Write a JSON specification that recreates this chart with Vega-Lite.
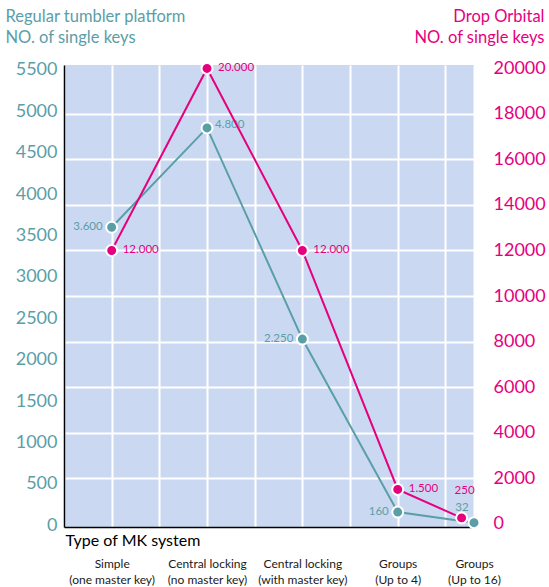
{
  "$schema": "https://vega.github.io/schema/vega-lite/v6.json",
  "width": 410,
  "height": 462,
  "autosize": {"type": "none"},
  "padding": {"left": 64, "top": 65, "right": 75, "bottom": 60},
  "background": "white",
  "config": {
    "view": {"fill": "#cad9f1", "stroke": null},
    "font": "Lato",
    "axis": {"ticks": false, "labelFont": "Lato", "titleFont": "Lato", "titleFontWeight": "normal"},
    "text": {"font": "Lato", "fontSize": 11.5, "baseline": "middle"}
  },
  "datasets": {
    "teal": [
      {"pos": 1, "keys": 3600, "label": "3.600", "system": "Simple (one master key)"},
      {"pos": 2, "keys": 4800, "label": "4.800", "system": "Central locking (no master key)"},
      {"pos": 3, "keys": 2250, "label": "2.250", "system": "Central locking (with master key)"},
      {"pos": 4, "keys": 160, "label": "160", "system": "Groups (Up to 4)"},
      {"pos": 4.8, "keys": 32, "label": "32", "system": "Groups (Up to 16)"}
    ],
    "mag": [
      {"pos": 1, "keys": 12000, "label": "12.000", "system": "Simple (one master key)"},
      {"pos": 2, "keys": 20000, "label": "20.000", "system": "Central locking (no master key)"},
      {"pos": 3, "keys": 12000, "label": "12.000", "system": "Central locking (with master key)"},
      {"pos": 4, "keys": 1500, "label": "1.500", "system": "Groups (Up to 4)"},
      {"pos": 4.67, "keys": 250, "label": "250", "system": "Groups (Up to 16)"}
    ]
  },
  "layer": [
    {
      "data": {"name": "teal"},
      "encoding": {
        "x": {
          "field": "pos", "type": "quantitative",
          "scale": {"domain": [0.5, 4.8], "nice": false, "zero": false},
          "axis": {
            "values": [0.5, 1, 1.5, 2, 2.5, 3, 3.5, 4, 4.5, 4.8],
            "grid": true, "gridColor": "white", "gridWidth": 2, "gridOpacity": 1,
            "domain": true, "domainColor": "black", "domainWidth": 1.5,
            "labelExpr": "datum.value == 1 ? ['Simple','(one master key)'] : datum.value == 2 ? ['Central locking','(no master key)'] : datum.value == 3 ? ['Central locking','(with master key)'] : datum.value == 4 ? ['Groups','(Up to 4)'] : datum.value == 4.8 ? ['Groups','(Up to 16)'] : ''",
            "labelFontSize": 12, "labelColor": "#1a1a1a", "labelLineHeight": 16,
            "labelPadding": 31, "labelOverlap": false, "labelFlush": false, "labelBound": false,
            "title": "Type of MK system", "titleFontSize": 16, "titleColor": "black",
            "titleAlign": "left", "titleBaseline": "top", "titleX": 1, "titleY": 5, "titleAnchor": "start"
          }
        },
        "y": {
          "field": "keys", "type": "quantitative",
          "scale": {"domain": [-20, 5560], "nice": false, "zero": false},
          "axis": {
            "orient": "left", "format": "d",
            "values": [0, 500, 1000, 1500, 2000, 2500, 3000, 3500, 4000, 4500, 5000, 5500],
            "grid": false, "domain": true, "domainColor": "black", "domainWidth": 1.5,
            "labelColor": "#5a9ea8", "labelFontSize": 18, "labelPadding": 7,
            "title": ["Regular tumbler platform", "NO. of single keys"],
            "titleColor": "#5a9ea8", "titleFontSize": 16.5, "titleAngle": 0,
            "titleAlign": "left", "titleBaseline": "top", "titleX": -59, "titleY": -57,
            "titleLineHeight": 21
          }
        }
      },
      "layer": [
        {"mark": {"type": "line", "color": "#5a9ea8", "strokeWidth": 2}},
        {"mark": {"type": "point", "filled": true, "size": 120, "color": "#5a9ea8", "stroke": "white", "strokeWidth": 2, "opacity": 1}},
        {
          "transform": [{"filter": "datum.pos == 1 || datum.pos == 3 || datum.pos == 4"}],
          "mark": {"type": "text", "align": "right", "dx": -9, "color": "#5a9ea8"},
          "encoding": {"text": {"field": "label"}}
        },
        {
          "transform": [{"filter": "datum.pos == 2"}],
          "mark": {"type": "text", "align": "left", "dx": 8, "dy": -3, "color": "#5a9ea8"},
          "encoding": {"text": {"field": "label"}}
        },
        {
          "transform": [{"filter": "datum.pos > 4.5"}],
          "mark": {"type": "text", "align": "center", "dx": -12, "dy": -15, "color": "#5a9ea8"},
          "encoding": {"text": {"field": "label"}}
        },
        {
          "data": {"values": [{"arrow": "y"}]},
          "mark": {"type": "point", "shape": "triangle-up", "filled": true, "color": "black", "size": 50, "opacity": 1},
          "encoding": {"x": {"datum": 0.5, "type": "quantitative"}, "y": {"datum": 5530, "type": "quantitative"}}
        },
        {
          "data": {"values": [{"arrow": "x"}]},
          "mark": {"type": "point", "shape": "triangle-right", "filled": true, "color": "black", "size": 50, "opacity": 1},
          "encoding": {"x": {"datum": 4.74, "type": "quantitative"}, "y": {"datum": -20, "type": "quantitative"}}
        }
      ]
    },
    {
      "data": {"name": "mag"},
      "encoding": {
        "x": {
          "field": "pos", "type": "quantitative",
          "scale": {"domain": [0.5, 4.8], "nice": false, "zero": false}
        },
        "y": {
          "field": "keys", "type": "quantitative",
          "scale": {"domain": [-150, 20150], "nice": false, "zero": false},
          "axis": {
            "orient": "right", "format": "d",
            "values": [0, 2000, 4000, 6000, 8000, 10000, 12000, 14000, 16000, 18000, 20000],
            "grid": true, "gridColor": "white", "gridWidth": 2,
            "gridOpacity": {"condition": {"test": "datum.value == 0 || datum.value == 20000", "value": 0}, "value": 1},
            "domain": false,
            "labelColor": "#e6007e", "labelFontSize": 18, "labelPadding": 19,
            "title": ["Drop Orbital", "NO. of single keys"],
            "titleColor": "#e6007e", "titleFontSize": 16.5, "titleAngle": 0,
            "titleAlign": "right", "titleBaseline": "top", "titleX": 70, "titleY": -57,
            "titleLineHeight": 21
          }
        }
      },
      "layer": [
        {"mark": {"type": "line", "color": "#e6007e", "strokeWidth": 2}},
        {"mark": {"type": "point", "filled": true, "size": 120, "color": "#e6007e", "stroke": "white", "strokeWidth": 2, "opacity": 1}},
        {
          "transform": [{"filter": "datum.pos <= 4"}],
          "mark": {"type": "text", "align": "left", "dx": 11, "color": "#e6007e"},
          "encoding": {"text": {"field": "label"}}
        },
        {
          "transform": [{"filter": "datum.pos > 4.5"}],
          "mark": {"type": "text", "align": "center", "dx": 3, "dy": -27, "color": "#e6007e"},
          "encoding": {"text": {"field": "label"}}
        }
      ]
    }
  ],
  "resolve": {"scale": {"y": "independent"}}
}
